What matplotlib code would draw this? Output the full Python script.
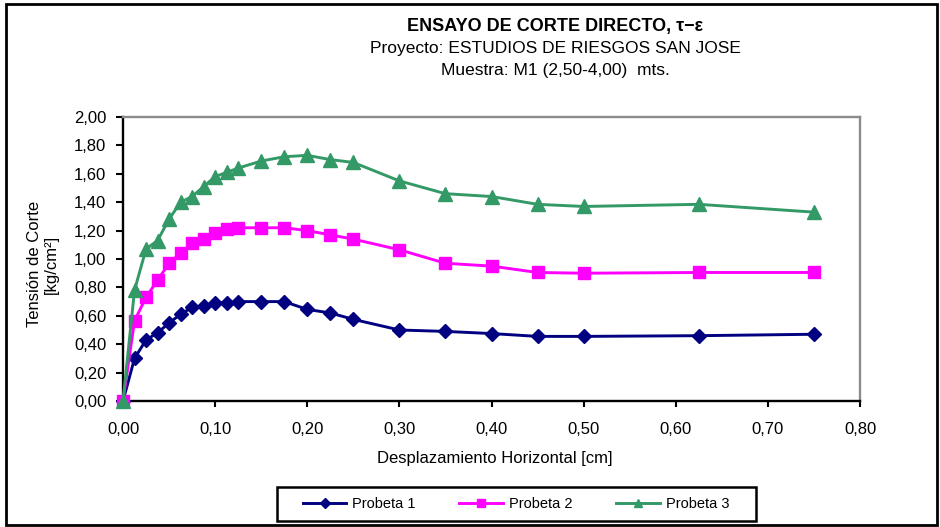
import numpy as np
import matplotlib
matplotlib.use('Agg')
import matplotlib.pyplot as plt
from matplotlib.patches import Rectangle
from matplotlib.ticker import FuncFormatter, MultipleLocator

plt.rcParams['font.family'] = ['Liberation Sans', 'DejaVu Sans']

# desplazamiento horizontal [cm]
desplaz = [0, 0.0125, 0.025, 0.0375, 0.05, 0.0625, 0.075, 0.0875, 0.1, 0.1125, 0.125,
           0.15, 0.175, 0.2, 0.225, 0.25, 0.3, 0.35, 0.4, 0.45, 0.5, 0.625, 0.75]

# tension de corte [kg/cm2]
probeta1 = [0, 0.30, 0.43, 0.48, 0.55, 0.61, 0.66, 0.67, 0.69, 0.69, 0.70,
            0.70, 0.70, 0.645, 0.62, 0.575, 0.50, 0.49, 0.475, 0.455, 0.455, 0.46, 0.47]
probeta2 = [0, 0.565, 0.73, 0.85, 0.97, 1.04, 1.11, 1.14, 1.18, 1.21, 1.22,
            1.22, 1.22, 1.20, 1.17, 1.14, 1.065, 0.97, 0.95, 0.905, 0.90, 0.905, 0.905]
probeta3 = [0, 0.78, 1.07, 1.13, 1.28, 1.40, 1.44, 1.51, 1.58, 1.61, 1.64,
            1.69, 1.72, 1.73, 1.70, 1.68, 1.55, 1.46, 1.44, 1.385, 1.37, 1.385, 1.33]

nombres = ['Probeta 1', 'Probeta 2', 'Probeta 3']

W, H = 940, 527
fig = plt.figure(figsize=(W/100, H/100), dpi=100)
ax = fig.add_axes([123/W, 1-401/H, (860-123)/W, (401-117)/H])

estilos = [('#000080', 'D', 7.5), ('#FF00FF', 's', 8.5), ('#339966', '^', 9.5)]
for serie, nombre, (c, m, ms) in zip([probeta1, probeta2, probeta3], nombres, estilos):
    ax.plot(desplaz, serie, color=c, lw=2.1, marker=m, ms=ms, mfc=c, mec=c,
            label=nombre, clip_on=False, zorder=3)

ax.set_xlim(0, 0.8)
ax.set_ylim(0, 2.0)
ax.xaxis.set_major_locator(MultipleLocator(0.1))
ax.yaxis.set_major_locator(MultipleLocator(0.2))
coma = FuncFormatter(lambda v, p: f"{v:.2f}".replace('.', ','))
ax.xaxis.set_major_formatter(coma)
ax.yaxis.set_major_formatter(coma)

for s in ['left', 'bottom']:
    ax.spines[s].set_color('black')
    ax.spines[s].set_linewidth(1.7)
for s in ['top', 'right']:
    ax.spines[s].set_color('#8c8c8c')
    ax.spines[s].set_linewidth(1.7)

ax.tick_params(axis='x', direction='out', length=4, width=1.5, labelsize=12, pad=11)
ax.tick_params(axis='y', direction='out', length=5, width=1.5, labelsize=12, pad=7)

ax.set_xlabel('Desplazamiento Horizontal [cm]', fontsize=12)
ax.xaxis.set_label_coords(0.505, (401-451)/284)

fig.text(43/W, 1-264/H, 'Tensión de Corte\n[kg/cm²]', rotation=90, ha='center',
         va='center', multialignment='center', fontsize=12, linespacing=1.1)

# titulo
fig.text(555/W, 1-27/H, 'ENSAYO DE CORTE DIRECTO, τ−ε', ha='center', va='center',
         fontsize=13, fontweight='bold')
fig.text(555/W, 1-49/H, 'Proyecto: ESTUDIOS DE RIESGOS SAN JOSE', ha='center',
         va='center', fontsize=12.5)
fig.text(555/W, 1-71/H, 'Muestra: M1 (2,50-4,00)  mts.', ha='center', va='center',
         fontsize=12.5)

# leyenda
fig.legend(loc='center', bbox_to_anchor=(516/W, 1-504/H), ncol=3, frameon=False,
           fontsize=10.5, handlelength=3, columnspacing=3.0, handletextpad=0.4,
           markerscale=0.65)
fig.add_artist(Rectangle((277/W, 1-521/H), (756-277)/W, 34/H, transform=fig.transFigure,
                         fill=False, ec='black', lw=1.8))

# marco exterior
fig.add_artist(Rectangle((6/W, 1-525/H), (937-6)/W, (525-4)/H, transform=fig.transFigure,
                         fill=False, ec='black', lw=2))

fig.savefig('out.png', dpi=100)
